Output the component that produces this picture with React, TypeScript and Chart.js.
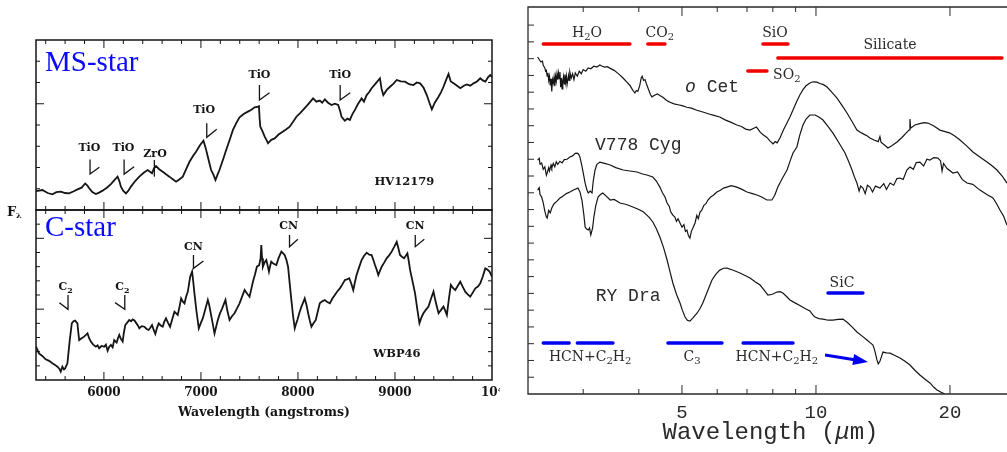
import { useEffect, useRef } from "react";
import { Chart, registerables } from "chart.js";

Chart.register(...registerables);

type Pt = [number, number];

// ---------------------------------------------------------------------------
// Optical spectra (wavelength in angstroms, relative flux F_lambda)
// ---------------------------------------------------------------------------
const msStar: Pt[] = [
  [5300, 0.89], [5366, 0.94], [5420, 0.8], [5469, 0.74], [5510, 0.84], [5555, 0.86], [5600, 0.8],
  [5641, 0.78], [5690, 0.88], [5728, 0.97], [5770, 1.05], [5807, 1.25], [5830, 1.15], [5848, 1.02],
  [5880, 0.85], [5917, 0.75], [5950, 0.82], [5986, 0.91], [6030, 1.05], [6072, 1.22], [6110, 1.42],
  [6141, 1.57], [6160, 1.35], [6175, 1.1], [6200, 0.9], [6227, 0.78], [6250, 0.9], [6279, 1.1],
  [6320, 1.35], [6365, 1.57], [6410, 1.75], [6451, 1.88], [6475, 1.8], [6496, 1.73], [6515, 1.95],
  [6537, 2.07], [6570, 1.92], [6606, 1.8], [6640, 1.68], [6675, 1.57], [6710, 1.45], [6744, 1.33],
  [6780, 1.45], [6813, 1.57], [6850, 1.95], [6882, 2.27], [6920, 2.55], [6951, 2.75], [6990, 3.05],
  [7026, 3.26], [7050, 2.9], [7071, 2.51], [7090, 2.15], [7105, 1.88], [7130, 1.65], [7150, 1.41],
  [7170, 1.65], [7191, 1.88], [7230, 2.4], [7260, 2.82], [7300, 3.35], [7329, 3.76], [7365, 4.1],
  [7398, 4.36], [7440, 4.52], [7484, 4.63], [7520, 4.72], [7553, 4.83], [7580, 4.85], [7598, 4.89],
  [7605, 4.3], [7612, 3.92], [7635, 3.7], [7657, 3.45], [7675, 3.3], [7691, 3.14], [7725, 3.3],
  [7760, 3.37], [7800, 3.55], [7846, 3.69], [7880, 3.8], [7915, 3.92], [7950, 4.15], [7984, 4.39],
  [8020, 4.55], [8053, 4.71], [8100, 4.95], [8156, 5.25], [8190, 5.1], [8225, 5.15], [8250, 5.05],
  [8277, 5.21], [8310, 5.05], [8346, 4.94], [8380, 5.0], [8415, 4.94], [8435, 4.65], [8449, 4.39],
  [8465, 4.3], [8484, 4.2], [8510, 4.3], [8535, 4.24], [8560, 4.5], [8587, 4.71], [8620, 5.0],
  [8656, 5.25], [8680, 5.1], [8708, 5.41], [8735, 5.55], [8759, 5.73], [8800, 5.95], [8845, 6.2],
  [8862, 5.7], [8880, 5.41], [8915, 5.65], [8949, 5.8], [8985, 5.95], [9018, 6.12], [9060, 6.05],
  [9104, 6.04], [9145, 5.92], [9190, 5.88], [9225, 6.0], [9259, 5.96], [9295, 5.75], [9328, 5.41],
  [9355, 5.05], [9380, 4.74], [9410, 5.05], [9449, 5.33], [9475, 5.55], [9500, 5.8], [9525, 6.1],
  [9552, 6.4], [9575, 6.05], [9604, 5.96], [9640, 5.85], [9673, 5.73], [9710, 5.85], [9741, 5.91],
  [9775, 5.85], [9810, 5.96], [9845, 6.05], [9879, 6.2], [9905, 6.1], [9931, 6.04], [9960, 6.25],
  [9982, 6.35], [10000, 6.25],
];

const cStar: Pt[] = [
  [5300, 2.35], [5331, 1.88], [5365, 1.7], [5400, 1.46], [5435, 1.35], [5469, 1.18], [5500, 1.05],
  [5521, 0.94], [5540, 0.8], [5555, 0.59], [5572, 0.94], [5588, 0.75], [5600, 0.82], [5624, 1.18],
  [5636, 2.0], [5648, 2.82], [5669, 4.0], [5686, 4.15], [5703, 4.19], [5727, 4.0], [5737, 3.3],
  [5745, 2.82], [5770, 2.95], [5796, 3.06], [5831, 3.29], [5848, 2.95], [5865, 2.71], [5890, 2.5],
  [5917, 2.35], [5935, 2.45], [5951, 2.24], [5975, 2.4], [6003, 2.35], [6020, 2.5], [6038, 2.07],
  [6055, 2.35], [6072, 2.47], [6090, 2.3], [6106, 2.82], [6131, 2.64], [6145, 2.95], [6158, 3.18],
  [6175, 2.9], [6193, 2.71], [6205, 3.3], [6220, 3.88], [6240, 4.05], [6261, 4.24], [6280, 4.15],
  [6296, 4.28], [6315, 4.2], [6330, 4.05], [6350, 3.85], [6365, 3.65], [6390, 3.8], [6417, 3.76],
  [6440, 3.6], [6461, 3.53], [6480, 3.7], [6496, 3.88], [6512, 3.55], [6530, 3.25], [6548, 3.7],
  [6565, 4.0], [6585, 3.85], [6606, 3.76], [6622, 4.1], [6640, 4.35], [6660, 4.05], [6682, 3.76],
  [6705, 4.3], [6727, 4.82], [6745, 4.7], [6761, 4.59], [6780, 5.2], [6796, 5.76], [6812, 5.55],
  [6830, 5.41], [6848, 5.9], [6865, 6.24], [6878, 6.8], [6889, 7.29], [6909, 7.65], [6920, 7.0],
  [6933, 6.12], [6955, 4.8], [6978, 3.65], [7000, 4.05], [7019, 4.35], [7045, 5.0], [7071, 5.65],
  [7085, 5.3], [7095, 4.94], [7118, 4.1], [7140, 3.29], [7158, 3.8], [7174, 4.24], [7196, 4.7],
  [7219, 5.06], [7236, 5.35], [7253, 5.65], [7272, 4.9], [7295, 4.24], [7320, 4.5], [7346, 4.71],
  [7372, 5.05], [7398, 5.41], [7425, 5.9], [7450, 6.35], [7475, 6.1], [7501, 5.88], [7520, 6.45],
  [7536, 6.94], [7557, 7.45], [7577, 8.0], [7600, 8.1], [7615, 8.6], [7622, 9.53], [7630, 8.6],
  [7639, 8.0], [7656, 8.3], [7674, 8.47], [7690, 8.0], [7701, 7.65], [7715, 8.1], [7725, 8.35],
  [7750, 8.2], [7777, 8.12], [7800, 8.6], [7829, 9.06], [7845, 8.95], [7863, 8.82], [7880, 8.5],
  [7898, 8.0], [7915, 6.8], [7932, 5.65], [7950, 4.5], [7967, 3.65], [7980, 3.95], [7994, 4.24],
  [8015, 4.75], [8036, 5.18], [8055, 5.5], [8070, 5.76], [8088, 5.3], [8105, 4.71], [8122, 4.2],
  [8139, 3.76], [8160, 4.0], [8184, 4.24], [8205, 4.85], [8225, 5.41], [8250, 5.55], [8277, 5.65],
  [8303, 5.5], [8329, 5.41], [8355, 5.75], [8380, 6.0], [8405, 6.25], [8432, 6.47], [8458, 6.75],
  [8484, 7.06], [8505, 7.1], [8529, 7.18], [8550, 6.8], [8570, 6.35], [8587, 6.9], [8604, 7.41],
  [8630, 7.95], [8656, 8.47], [8680, 8.75], [8708, 8.99], [8735, 8.85], [8759, 8.82], [8776, 8.5],
  [8794, 8.12], [8811, 7.8], [8828, 7.41], [8845, 7.7], [8863, 8.0], [8890, 8.3], [8914, 8.59],
  [8940, 8.8], [8966, 9.06], [8992, 9.4], [9018, 9.76], [9035, 9.3], [9052, 8.82], [9072, 8.7],
  [9094, 8.59], [9110, 8.75], [9128, 8.94], [9142, 8.4], [9156, 7.76], [9180, 7.0], [9207, 6.12],
  [9230, 5.0], [9252, 4.0], [9272, 4.4], [9293, 4.71], [9318, 4.95], [9345, 5.18], [9372, 5.75],
  [9397, 6.24], [9420, 5.5], [9449, 4.71], [9475, 4.95], [9500, 5.18], [9518, 4.9], [9535, 4.59],
  [9555, 5.7], [9576, 6.71], [9598, 6.5], [9621, 6.35], [9648, 6.65], [9673, 6.94], [9700, 6.55],
  [9724, 6.24], [9750, 6.05], [9776, 5.88], [9800, 6.15], [9828, 6.47], [9855, 6.6], [9879, 6.82],
  [9905, 7.3], [9931, 7.88], [9952, 7.8], [9975, 7.65], [10000, 7.29],
];

// ---------------------------------------------------------------------------
// Infrared spectra (wavelength in microns, offset relative flux)
// ---------------------------------------------------------------------------
const oCet: Pt[] = [
  [2.37, 20.1], [2.39, 19.95], [2.41, 19.8], [2.43, 19.85], [2.44, 19.6], [2.46, 19.45], [2.47, 19.25],
  [2.48, 19.3], [2.49, 18.95], [2.5, 19.15], [2.51, 18.7], [2.52, 18.95], [2.53, 18.4], [2.54, 18.8],
  [2.55, 18.05], [2.56, 18.75], [2.57, 18.55], [2.58, 18.9], [2.59, 18.35], [2.6, 18.95], [2.61, 18.65],
  [2.62, 19.1], [2.63, 18.75], [2.64, 19.15], [2.65, 18.8], [2.66, 19.2], [2.67, 18.3], [2.68, 18.85],
  [2.69, 18.2], [2.7, 18.7], [2.71, 18.95], [2.72, 18.5], [2.73, 19.05], [2.74, 18.6], [2.75, 18.95],
  [2.76, 18.45], [2.78, 19.0], [2.79, 18.7], [2.8, 19.2], [2.82, 18.85], [2.84, 19.1], [2.86, 18.75],
  [2.88, 19.15], [2.91, 18.95], [2.94, 19.25], [2.97, 19.1], [3.0, 19.35], [3.04, 19.25], [3.08, 19.45],
  [3.12, 19.4], [3.17, 19.55], [3.22, 19.5], [3.27, 19.62], [3.31, 19.55], [3.35, 19.5], [3.4, 19.52],
  [3.45, 19.42], [3.52, 19.3], [3.58, 19.15], [3.63, 19.02], [3.7, 18.8], [3.76, 18.6], [3.82, 18.4],
  [3.87, 18.15], [3.92, 17.95], [3.95, 18.1], [3.98, 18.05], [4.02, 18.4], [4.05, 18.85], [4.07, 18.95],
  [4.1, 18.7], [4.13, 18.75], [4.16, 18.5], [4.2, 18.2], [4.25, 17.85], [4.28, 17.72], [4.33, 17.8],
  [4.4, 17.9], [4.46, 17.8], [4.53, 17.7], [4.6, 17.55], [4.66, 17.45], [4.7, 17.4], [4.8, 17.3],
  [4.9, 17.25], [5.0, 17.2], [5.13, 17.1], [5.25, 17.05], [5.4, 16.92], [5.57, 16.82], [5.75, 16.7],
  [5.9, 16.62], [6.08, 16.52], [6.25, 16.35], [6.45, 16.2], [6.64, 16.04], [6.8, 15.95], [6.95, 15.8],
  [7.11, 15.74], [7.25, 15.85], [7.35, 15.92], [7.41, 15.8], [7.5, 15.6], [7.62, 15.45], [7.76, 15.3],
  [7.88, 15.1], [8.01, 14.91], [8.1, 15.05], [8.18, 14.98], [8.3, 15.27], [8.45, 15.75], [8.6, 16.15],
  [8.74, 16.52], [8.9, 17.0], [9.05, 17.45], [9.2, 17.83], [9.35, 18.15], [9.5, 18.38], [9.69, 18.55],
  [9.85, 18.62], [10.05, 18.6], [10.2, 18.52], [10.4, 18.45], [10.59, 18.31], [10.85, 18.0], [11.15, 17.65],
  [11.45, 17.2], [11.74, 16.76], [12.05, 16.25], [12.36, 15.74], [12.55, 15.62], [12.8, 15.5], [13.02, 15.4],
  [13.22, 15.27], [13.5, 15.15], [13.8, 15.05], [13.92, 15.35], [14.0, 15.02], [14.25, 14.85], [14.51, 14.67],
  [14.8, 14.8], [15.21, 15.03], [15.6, 15.3], [16.01, 15.62], [16.2, 15.75], [16.26, 16.4], [16.32, 15.85],
  [16.68, 16.04], [17.1, 16.12], [17.5, 16.18], [17.84, 16.16], [18.4, 15.98], [18.99, 15.74], [19.5, 15.65],
  [20.0, 15.56], [20.5, 15.38], [21.06, 15.15], [21.8, 14.8], [22.52, 14.43], [23.3, 14.15], [24.22, 13.83],
  [24.9, 13.6], [25.5, 13.36], [26.2, 13.0], [26.85, 12.58],
];

const v778Cyg: Pt[] = [
  [2.37, 13.95], [2.39, 14.05], [2.4, 13.7], [2.42, 13.77], [2.44, 13.4], [2.46, 13.55], [2.48, 13.05],
  [2.49, 13.18], [2.51, 13.5], [2.52, 13.3], [2.54, 13.65], [2.55, 13.48], [2.57, 13.75], [2.59, 13.55],
  [2.61, 13.85], [2.63, 13.7], [2.66, 13.88], [2.69, 13.78], [2.72, 13.98], [2.76, 14.0], [2.8, 14.13],
  [2.84, 14.2], [2.88, 14.35], [2.91, 14.37], [2.93, 14.3], [2.95, 14.13], [2.98, 13.6], [3.01, 13.0],
  [3.03, 12.58], [3.06, 12.15], [3.08, 11.99], [3.11, 12.1], [3.14, 11.99], [3.16, 12.7], [3.19, 13.36],
  [3.22, 13.7], [3.27, 13.83], [3.35, 13.75], [3.45, 13.66], [3.55, 13.5], [3.69, 13.36], [3.82, 13.3],
  [3.96, 13.24], [4.08, 13.12], [4.17, 13.06], [4.3, 12.94], [4.38, 12.7], [4.46, 12.34], [4.52, 12.0],
  [4.58, 11.75], [4.63, 11.39], [4.68, 11.2], [4.72, 10.85], [4.77, 10.67], [4.82, 10.55], [4.86, 10.3],
  [4.9, 10.45], [4.95, 10.2], [5.0, 9.95], [5.05, 10.1], [5.09, 9.7], [5.13, 9.78], [5.17, 9.45],
  [5.21, 9.3], [5.25, 9.7], [5.3, 9.95], [5.35, 10.2], [5.4, 10.65], [5.44, 10.45], [5.49, 10.85],
  [5.54, 10.97], [5.6, 11.25], [5.66, 11.35], [5.72, 11.57], [5.8, 11.75], [5.88, 11.85], [5.99, 12.05],
  [6.1, 12.15], [6.2, 12.28], [6.31, 12.34], [6.45, 12.42], [6.64, 12.34], [6.8, 12.22], [7.0, 12.05],
  [7.2, 11.95], [7.37, 11.87], [7.55, 11.75], [7.76, 11.57], [7.96, 11.57], [8.08, 11.85], [8.21, 12.34],
  [8.4, 12.85], [8.61, 13.36], [8.75, 13.9], [8.88, 14.37], [9.06, 14.73], [9.2, 15.45], [9.35, 16.04],
  [9.5, 16.4], [9.69, 16.64], [9.95, 16.64], [10.15, 16.52], [10.37, 16.34], [10.65, 15.95], [10.92, 15.56],
  [11.25, 15.0], [11.62, 14.37], [11.85, 13.85], [12.05, 13.36], [12.2, 12.95], [12.36, 12.58], [12.5, 12.1],
  [12.6, 12.4], [12.75, 12.28], [12.9, 11.95], [13.05, 12.45], [13.22, 12.34], [13.4, 12.05], [13.6, 12.4],
  [13.92, 12.28], [14.2, 12.55], [14.4, 12.2], [14.67, 12.58], [14.95, 12.45], [15.2, 12.85], [15.44, 12.88],
  [15.7, 12.8], [16.0, 13.35], [16.26, 13.54], [16.55, 13.4], [16.8, 13.8], [17.12, 13.83], [17.45, 13.6],
  [17.75, 14.0], [18.03, 13.95], [18.4, 14.1], [18.79, 14.07], [19.05, 13.9], [19.2, 13.3], [19.35, 13.75],
  [19.7, 13.45], [20.31, 13.18], [20.8, 13.25], [21.3, 12.8], [21.84, 12.58], [22.5, 12.5], [23.35, 12.16],
  [24.2, 11.9], [24.98, 11.69], [25.45, 11.35], [25.9, 10.97], [26.4, 10.6], [26.85, 10.08],
];

const ryDra: Pt[] = [
  [2.37, 12.16], [2.39, 12.3], [2.4, 11.9], [2.42, 11.75], [2.44, 11.4], [2.46, 10.9], [2.48, 10.55],
  [2.49, 10.49], [2.51, 10.95], [2.53, 10.8], [2.55, 11.09], [2.58, 11.35], [2.62, 11.5], [2.66, 11.69],
  [2.7, 11.8], [2.75, 11.95], [2.8, 12.05], [2.86, 12.18], [2.92, 12.28], [2.95, 12.05], [2.98, 11.57],
  [3.01, 10.7], [3.03, 9.96], [3.05, 9.85], [3.08, 9.78], [3.1, 9.9], [3.12, 9.48], [3.15, 9.9],
  [3.17, 10.55], [3.2, 11.2], [3.24, 11.75], [3.28, 11.9], [3.32, 11.99], [3.38, 11.8], [3.45, 11.57],
  [3.52, 11.6], [3.63, 11.39], [3.75, 11.3], [3.88, 11.15], [4.0, 11.0], [4.1, 10.85], [4.17, 10.67],
  [4.23, 10.5], [4.3, 10.26], [4.38, 9.85], [4.46, 9.36], [4.55, 8.7], [4.63, 7.99], [4.7, 7.3],
  [4.77, 6.62], [4.86, 5.95], [4.95, 5.43], [5.01, 5.0], [5.08, 4.59], [5.14, 4.4], [5.21, 4.35],
  [5.3, 4.55], [5.41, 4.83], [5.49, 5.1], [5.57, 5.43], [5.7, 6.1], [5.84, 6.8], [5.96, 7.15],
  [6.08, 7.39], [6.2, 7.5], [6.31, 7.51], [6.52, 7.38], [6.75, 7.22], [6.95, 7.05], [7.11, 6.92],
  [7.3, 6.7], [7.49, 6.5], [7.65, 6.2], [7.8, 5.9], [7.98, 5.95], [8.17, 6.08], [8.3, 6.1],
  [8.43, 6.02], [8.6, 5.8], [8.74, 5.61], [8.95, 5.45], [9.2, 5.28], [9.45, 5.1], [9.69, 4.95],
  [9.85, 4.7], [9.95, 4.59], [10.15, 4.5], [10.37, 4.47], [10.65, 4.4], [10.92, 4.41], [11.2, 4.45],
  [11.5, 4.47], [11.8, 4.23], [12.05, 4.0], [12.36, 3.7], [12.7, 3.45], [13.02, 3.22], [13.25, 3.05],
  [13.43, 2.92], [13.55, 2.6], [13.71, 2.03], [13.8, 1.8], [13.92, 1.95], [14.02, 2.2], [14.14, 2.5],
  [14.4, 2.45], [14.67, 2.44], [15.05, 2.3], [15.44, 2.15], [15.85, 1.95], [16.26, 1.73], [16.7, 1.4],
  [17.12, 1.13], [17.55, 0.9], [18.03, 0.66], [18.4, 0.4], [18.7, 0.24], [19.1, 0.1], [19.49, 0.0],
];

// Axis ticks
const angstromLabels = [6000, 7000, 8000, 9000, 10000];
const micronLabels = [5, 10, 20];
const micronTicks = [3, 4, 5, 6, 7, 8, 9, 10, 20];

// Band identifications: label position, vertical stroke and hook end
type Marker = { text: string; tx: number; ty: number; x: number; top: number; bottom: number; ex: number; ey: number };

const msMarkers: Marker[] = [
  { text: "TiO", tx: 5850, ty: 2.9, x: 5857, top: 2.38, bottom: 1.69, ex: 5953, ey: 2.01 },
  { text: "TiO", tx: 6201, ty: 2.9, x: 6208, top: 2.38, bottom: 1.69, ex: 6311, ey: 2.04 },
  { text: "ZrO", tx: 6527, ty: 2.64, x: 6520, top: 2.35, bottom: 1.57, ex: 6520, ey: 1.57 },
  { text: "TiO", tx: 7033, ty: 4.71, x: 7060, top: 4.08, bottom: 3.42, ex: 7163, ey: 3.8 },
  { text: "TiO", tx: 7603, ty: 6.35, x: 7603, top: 5.88, bottom: 5.18, ex: 7707, ey: 5.52 },
  { text: "TiO", tx: 8435, ty: 6.35, x: 8435, top: 5.88, bottom: 5.18, ex: 8539, ey: 5.52 },
];

const cMarkers: Marker[] = [
  { text: "C2", tx: 5606, ty: 6.54, x: 5630, top: 6.0, bottom: 4.99, ex: 5541, ey: 5.46 },
  { text: "C2", tx: 6190, ty: 6.54, x: 6215, top: 6.0, bottom: 4.99, ex: 6115, ey: 5.46 },
  { text: "CN", tx: 6923, ty: 9.41, x: 6923, top: 8.82, bottom: 7.88, ex: 7026, ey: 8.4 },
  { text: "CN", tx: 7903, ty: 10.87, x: 7913, top: 10.24, bottom: 9.41, ex: 7999, ey: 9.93 },
  { text: "CN", tx: 9209, ty: 10.87, x: 9209, top: 10.24, bottom: 9.41, ex: 9302, ey: 9.93 },
];

// Molecular / dust features in the infrared: [from µm, to µm, level]
const oxygenBands: [number, number, number][] = [
  [2.44, 3.82, 20.87],
  [4.19, 4.58, 20.87],
  [7.6, 8.65, 20.87],
  [7.03, 7.76, 19.26],
  [8.21, 26.17, 20.04],
];
const oxygenLabels: { text: string; x: number; y: number; align: "left" | "center" }[] = [
  { text: "H2O", x: 3.06, y: 21.53, align: "center" },
  { text: "CO2", x: 4.46, y: 21.53, align: "center" },
  { text: "SiO", x: 8.09, y: 21.53, align: "center" },
  { text: "SO2", x: 8.01, y: 19.02, align: "left" },
  { text: "Silicate", x: 14.67, y: 20.81, align: "center" },
];
const carbonBands: [number, number, number][] = [
  [2.44, 2.79, 3.04],
  [2.91, 3.5, 3.04],
  [4.65, 6.15, 3.04],
  [6.86, 8.88, 3.04],
  [10.64, 12.75, 6.02],
];
const carbonLabels: { text: string; x: number; y: number }[] = [
  { text: "HCN+C2H2", x: 3.11, y: 2.21 },
  { text: "C3", x: 5.27, y: 2.21 },
  { text: "HCN+C2H2", x: 8.17, y: 2.21 },
  { text: "SiC", x: 11.44, y: 6.62 },
];
const arrowFrom: Pt = [10.48, 2.33];
const arrowTo: Pt = [13.09, 1.91];

// ---------------------------------------------------------------------------
const INK = "#151515";
const GREY_INK = "#2a2a2a";
const RED = "#f20000";
const BLUE = "#0000ee";
const TITLE_BLUE = "#0a0aff";
const SERIF = '"DejaVu Serif", serif';
const TIMES = '"Liberation Serif", serif';
const MONO = '"Liberation Mono", monospace';

type Seg = { t: string; sub?: boolean; italic?: boolean };

function chemSegments(text: string): Seg[] {
  const out: Seg[] = [];
  for (let i = 0; i < text.length; i++) {
    const ch = text[i];
    const sub = /\d/.test(ch) && i > 0 && /[A-Za-z]/.test(text[i - 1]);
    out.push({ t: ch, sub });
  }
  return out;
}

function drawRich(
  ctx: CanvasRenderingContext2D,
  segs: Seg[],
  x: number,
  y: number,
  size: number,
  family: string,
  color: string,
  align: "left" | "center" = "center",
  weight = "normal"
) {
  const fontOf = (s: Seg) =>
    `${s.italic ? "italic " : ""}${weight} ${s.sub ? Math.round(size * 0.72) : size}px ${family}`;
  const widths = segs.map((s) => {
    ctx.font = fontOf(s);
    return ctx.measureText(s.t).width;
  });
  const total = widths.reduce((a, b) => a + b, 0);
  let cx = align === "center" ? x - total / 2 : x;
  ctx.fillStyle = color;
  ctx.textAlign = "left";
  ctx.textBaseline = "middle";
  segs.forEach((s, i) => {
    ctx.font = fontOf(s);
    ctx.fillText(s.t, cx, y + (s.sub ? size * 0.32 : 0));
    cx += widths[i];
  });
}

function angstromTicks(): number[] {
  const t: number[] = [];
  for (let w = 5400; w < 10000; w += 200) t.push(w);
  return t;
}

function drawLeftFrame(chart: Chart, yTicks: number[], yMajor: number[]) {
  const { ctx, chartArea: a } = chart;
  const xs = chart.scales.x;
  const ys = chart.scales.y;
  ctx.strokeStyle = INK;
  ctx.lineWidth = 1;
  ctx.beginPath();
  for (const w of angstromTicks()) {
    const p = xs.getPixelForValue(w);
    const len = w % 1000 === 0 ? 8 : 4;
    ctx.moveTo(p, a.top);
    ctx.lineTo(p, a.top + len);
    ctx.moveTo(p, a.bottom);
    ctx.lineTo(p, a.bottom - len);
  }
  for (const v of yTicks) {
    const p = ys.getPixelForValue(v);
    const len = yMajor.includes(v) ? 8 : 4;
    ctx.moveTo(a.left, p);
    ctx.lineTo(a.left + len, p);
    ctx.moveTo(a.right, p);
    ctx.lineTo(a.right - len, p);
  }
  ctx.stroke();
  ctx.lineWidth = 1.5;
  ctx.strokeRect(a.left, a.top, a.right - a.left, a.bottom - a.top);
}

function drawMarkers(chart: Chart, markers: Marker[]) {
  const { ctx } = chart;
  const xs = chart.scales.x;
  const ys = chart.scales.y;
  ctx.strokeStyle = INK;
  ctx.lineWidth = 1.3;
  for (const m of markers) {
    ctx.beginPath();
    ctx.moveTo(xs.getPixelForValue(m.x), ys.getPixelForValue(m.top));
    ctx.lineTo(xs.getPixelForValue(m.x), ys.getPixelForValue(m.bottom));
    ctx.lineTo(xs.getPixelForValue(m.ex), ys.getPixelForValue(m.ey));
    ctx.stroke();
    drawRich(ctx, chemSegments(m.text), xs.getPixelForValue(m.tx), ys.getPixelForValue(m.ty), 11, SERIF, INK, "center", "bold");
  }
}

const lineDataset = (pts: Pt[], width: number, color = INK) => ({
  data: pts.map(([x, y]) => ({ x, y })),
  borderColor: color,
  borderWidth: width,
  pointRadius: 0,
  tension: 0,
  fill: false,
});

const bandDataset = ([from, to, level]: [number, number, number], color: string) => ({
  data: [
    { x: from, y: level },
    { x: to, y: level },
  ],
  borderColor: color,
  borderWidth: 3.4,
  borderCapStyle: "round" as const,
  pointRadius: 0,
  fill: false,
});

// keep the axis box at a fixed height and stop it from widening the plot margins
const fixAxis = (height: number) => (s: any) => {
  s.height = height;
  s.paddingLeft = 0;
  s.paddingRight = 0;
};

const baseOptions = {
  animation: false as const,
  responsive: false,
  maintainAspectRatio: false,
  events: [] as never[],
  plugins: { legend: { display: false }, tooltip: { enabled: false } },
};

export default function App() {
  const msRef = useRef<HTMLCanvasElement | null>(null);
  const cRef = useRef<HTMLCanvasElement | null>(null);
  const irRef = useRef<HTMLCanvasElement | null>(null);

  useEffect(() => {
    const charts: Chart[] = [];

    // Upper optical panel: M-type star
    charts.push(
      new Chart(msRef.current!, {
        type: "line",
        data: { datasets: [lineDataset(msStar, 1.8) as any] },
        options: {
          ...baseOptions,
          layout: { padding: { left: 36, right: 8, top: 40, bottom: 2 }, autoPadding: false },
          scales: {
            x: { type: "linear", min: 5300, max: 10000, display: false },
            y: { type: "linear", min: 0, max: 8, display: false },
          },
        } as any,
        plugins: [
          {
            id: "msDecor",
            afterDatasetsDraw(chart: Chart) {
              const { ctx } = chart;
              const xs = chart.scales.x;
              const ys = chart.scales.y;
              ctx.save();
              drawLeftFrame(chart, [1, 2, 3, 4, 5, 6, 7], [5]);
              drawMarkers(chart, msMarkers);
              drawRich(ctx, [{ t: "MS-star" }], xs.getPixelForValue(5393), ys.getPixelForValue(6.92), 29, TIMES, TITLE_BLUE, "left");
              drawRich(ctx, [{ t: "HV12179" }], xs.getPixelForValue(9096), ys.getPixelForValue(1.33), 11.5, SERIF, INK, "center", "bold");
              ctx.restore();
            },
          },
        ],
      })
    );

    // Lower optical panel: carbon star, carries the wavelength axis
    charts.push(
      new Chart(cRef.current!, {
        type: "line",
        data: { datasets: [lineDataset(cStar, 1.8) as any] },
        options: {
          ...baseOptions,
          layout: { padding: { left: 36, right: 8, top: 5, bottom: 0 }, autoPadding: false },
          scales: {
            x: {
              type: "linear",
              min: 5300,
              max: 10000,
              grid: { display: false, drawTicks: false },
              border: { display: false },
              afterBuildTicks: (s: any) => {
                s.ticks = angstromLabels.map((value) => ({ value }));
              },
              afterFit: fixAxis(72),
              ticks: {
                padding: 6,
                maxRotation: 0,
                autoSkip: false,
                color: INK,
                font: { family: SERIF, weight: "bold", size: 12 },
                callback: (v: any) => (Number(v) === 10000 ? "10⁴" : String(v)),
              },
              title: {
                display: true,
                text: "Wavelength (angstroms)",
                color: INK,
                font: { family: SERIF, weight: "bold", size: 12.5 },
                padding: { top: 0, bottom: 32 },
              },
            },
            y: { type: "linear", min: 0, max: 12, display: false },
          },
        } as any,
        plugins: [
          {
            id: "cDecor",
            afterDatasetsDraw(chart: Chart) {
              const { ctx, chartArea: a } = chart;
              const xs = chart.scales.x;
              const ys = chart.scales.y;
              ctx.save();
              drawLeftFrame(chart, [1, 2, 3, 4, 5, 6, 7, 8, 9, 10, 11], [5, 10]);
              drawMarkers(chart, cMarkers);
              drawRich(ctx, [{ t: "C-star" }], xs.getPixelForValue(5393), ys.getPixelForValue(10.73), 29, TIMES, TITLE_BLUE, "left");
              drawRich(ctx, [{ t: "WBP46" }], xs.getPixelForValue(9020), ys.getPixelForValue(1.84), 11.5, SERIF, INK, "center", "bold");
              // flux axis symbol
              ctx.fillStyle = INK;
              ctx.textBaseline = "middle";
              ctx.textAlign = "left";
              ctx.font = `bold 13px ${SERIF}`;
              ctx.fillText("F", a.left - 29, a.top + 3);
              ctx.font = `bold 8px ${SERIF}`;
              ctx.fillText("λ", a.left - 20, a.top + 6);
              ctx.restore();
            },
          },
        ],
      })
    );

    // Infrared panel
    charts.push(
      new Chart(irRef.current!, {
        type: "line",
        data: {
          datasets: [
            lineDataset(oCet, 1.2) as any,
            lineDataset(v778Cyg, 1.2) as any,
            lineDataset(ryDra, 1.2) as any,
            ...oxygenBands.map((b) => bandDataset(b, RED) as any),
            ...carbonBands.map((b) => bandDataset(b, BLUE) as any),
          ],
        },
        options: {
          ...baseOptions,
          layout: { padding: { left: 18, right: 0, top: 7, bottom: 0 }, autoPadding: false },
          scales: {
            x: {
              type: "logarithmic",
              min: 2.255,
              max: 26.86,
              grid: { display: false, drawTicks: false },
              border: { display: false },
              afterBuildTicks: (s: any) => {
                s.ticks = micronLabels.map((value) => ({ value }));
              },
              afterFit: fixAxis(58),
              ticks: {
                padding: 8,
                maxRotation: 0,
                autoSkip: false,
                color: GREY_INK,
                font: { family: MONO, size: 19 },
                callback: (v: any) => String(v),
              },
            },
            y: { type: "linear", min: 0, max: 23.08, display: false },
          },
        } as any,
        plugins: [
          {
            id: "irDecor",
            afterDatasetsDraw(chart: Chart) {
              const { ctx, chartArea: a } = chart;
              const xs = chart.scales.x;
              const ys = chart.scales.y;
              ctx.save();
              // frame (left, top, bottom) with inward ticks
              ctx.strokeStyle = GREY_INK;
              ctx.lineWidth = 1;
              ctx.beginPath();
              for (const w of micronTicks) {
                const p = xs.getPixelForValue(w);
                const len = micronLabels.includes(w) ? 9 : 5;
                ctx.moveTo(p, a.top);
                ctx.lineTo(p, a.top + len);
                ctx.moveTo(p, a.bottom);
                ctx.lineTo(p, a.bottom - len);
              }
              for (let v = 1; v <= 22; v++) {
                const p = ys.getPixelForValue(v);
                ctx.moveTo(a.left, p);
                ctx.lineTo(a.left + 6, p);
              }
              ctx.stroke();
              ctx.lineWidth = 1.3;
              ctx.beginPath();
              ctx.moveTo(a.right, a.top);
              ctx.lineTo(a.left, a.top);
              ctx.lineTo(a.left, a.bottom);
              ctx.lineTo(a.right, a.bottom);
              ctx.stroke();

              // feature labels
              for (const l of oxygenLabels) {
                drawRich(ctx, chemSegments(l.text), xs.getPixelForValue(l.x), ys.getPixelForValue(l.y), 14, SERIF, GREY_INK, l.align);
              }
              for (const l of carbonLabels) {
                drawRich(ctx, chemSegments(l.text), xs.getPixelForValue(l.x), ys.getPixelForValue(l.y), 14, SERIF, GREY_INK, "center");
              }

              // star names
              drawRich(ctx, [{ t: "o", italic: true }, { t: " Cet" }], xs.getPixelForValue(5.08), ys.getPixelForValue(18.31), 18, MONO, GREY_INK, "left");
              drawRich(ctx, [{ t: "V778 Cyg" }], xs.getPixelForValue(3.19), ys.getPixelForValue(14.85), 18, MONO, GREY_INK, "left");
              drawRich(ctx, [{ t: "RY Dra" }], xs.getPixelForValue(3.2), ys.getPixelForValue(5.84), 18, MONO, GREY_INK, "left");

              // arrow pointing at the 13.7 µm absorption
              const x0 = xs.getPixelForValue(arrowFrom[0]);
              const y0 = ys.getPixelForValue(arrowFrom[1]);
              const x1 = xs.getPixelForValue(arrowTo[0]);
              const y1 = ys.getPixelForValue(arrowTo[1]);
              const len = Math.hypot(x1 - x0, y1 - y0);
              const ux = (x1 - x0) / len;
              const uy = (y1 - y0) / len;
              ctx.strokeStyle = BLUE;
              ctx.fillStyle = BLUE;
              ctx.lineWidth = 3;
              ctx.beginPath();
              ctx.moveTo(x0, y0);
              ctx.lineTo(x1 - ux * 12, y1 - uy * 12);
              ctx.stroke();
              ctx.beginPath();
              ctx.moveTo(x1, y1);
              ctx.lineTo(x1 - ux * 15 - uy * 5.5, y1 - uy * 15 + ux * 5.5);
              ctx.lineTo(x1 - ux * 15 + uy * 5.5, y1 - uy * 15 - ux * 5.5);
              ctx.closePath();
              ctx.fill();

              // axis title with italic mu
              drawRich(
                ctx,
                [{ t: "Wavelength (" }, { t: "μ", italic: true }, { t: "m)" }],
                (a.left + a.right) / 2 + 3,
                a.bottom + 39,
                24,
                MONO,
                GREY_INK,
                "center"
              );
              ctx.restore();
            },
          },
        ],
      })
    );

    return () => charts.forEach((c) => c.destroy());
  }, []);

  return (
    <div
      style={{
        position: "fixed",
        left: 0,
        top: 0,
        width: 1007,
        height: 452,
        background: "#ffffff",
        overflow: "hidden",
      }}
    >
      <canvas ref={msRef} width={500} height={212} style={{ position: "absolute", left: 0, top: 0 }} />
      <canvas ref={cRef} width={500} height={247} style={{ position: "absolute", left: 0, top: 205 }} />
      <canvas ref={irRef} width={497} height={452} style={{ position: "absolute", left: 510, top: 0 }} />
    </div>
  );
}
